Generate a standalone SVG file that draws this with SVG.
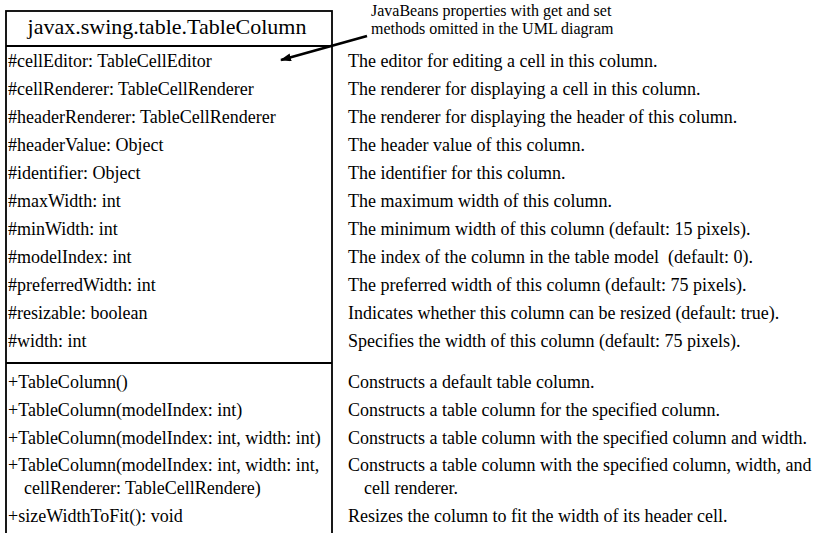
<svg xmlns="http://www.w3.org/2000/svg" width="816" height="533" viewBox="0 0 816 533">
<defs>
<style>
text{font-family:"Liberation Serif","Times New Roman",serif;fill:#000}
.t{font-size:22px}
.m{font-size:18px}
.n{font-size:16px}
.box{fill:#fff;stroke:#000;stroke-width:1.8}
.ln{stroke:#000;stroke-width:1.8}
</style>
<marker id="ah" markerWidth="11" markerHeight="8" refX="10" refY="4" orient="auto" markerUnits="userSpaceOnUse">
<path d="M0,0 L11,4 L0,8 z" fill="#000"/>
</marker>
</defs>
<rect width="816" height="533" fill="#fff"/>
<g id="class-TableColumn">
<rect class="box" x="6" y="11" width="326" height="530"/>
<line class="ln" x1="6" y1="46" x2="332" y2="46"/>
<line class="ln" x1="6" y1="363" x2="332" y2="363"/>
<text class="t" x="167" y="34" text-anchor="middle">javax.swing.table.TableColumn</text>
<g class="m">
<text x="8" y="67">#cellEditor: TableCellEditor</text>
<text x="8" y="95">#cellRenderer: TableCellRenderer</text>
<text x="8" y="123">#headerRenderer: TableCellRenderer</text>
<text x="8" y="151">#headerValue: Object</text>
<text x="8" y="179">#identifier: Object</text>
<text x="8" y="207">#maxWidth: int</text>
<text x="8" y="235">#minWidth: int</text>
<text x="8" y="263">#modelIndex: int</text>
<text x="8" y="291">#preferredWidth: int</text>
<text x="8" y="319">#resizable: boolean</text>
<text x="8" y="347">#width: int</text>
<text x="8" y="388">+TableColumn()</text>
<text x="8" y="416">+TableColumn(modelIndex: int)</text>
<text x="8" y="444">+TableColumn(modelIndex: int, width: int)</text>
<text x="8" y="471">+TableColumn(modelIndex: int, width: int,</text>
<text x="24" y="494">cellRenderer: TableCellRendere)</text>
<text x="8" y="522">+sizeWidthToFit(): void</text>
</g>
</g>
<g id="descriptions" class="m">
<text x="348" y="67">The editor for editing a cell in this column.</text>
<text x="348" y="95">The renderer for displaying a cell in this column.</text>
<text x="348" y="123">The renderer for displaying the header of this column.</text>
<text x="348" y="151">The header value of this column.</text>
<text x="348" y="179">The identifier for this column.</text>
<text x="348" y="207">The maximum width of this column.</text>
<text x="348" y="235">The minimum width of this column (default: 15 pixels).</text>
<text x="348" y="263" xml:space="preserve">The index of the column in the table model  (default: 0).</text>
<text x="348" y="291">The preferred width of this column (default: 75 pixels).</text>
<text x="348" y="319">Indicates whether this column can be resized (default: true).</text>
<text x="348" y="347">Specifies the width of this column (default: 75 pixels).</text>
<text x="348" y="388">Constructs a default table column.</text>
<text x="348" y="416">Constructs a table column for the specified column.</text>
<text x="348" y="444">Constructs a table column with the specified column and width.</text>
<text x="348" y="471">Constructs a table column with the specified column, width, and</text>
<text x="364" y="494">cell renderer.</text>
<text x="348" y="522">Resizes the column to fit the width of its header cell.</text>
</g>
<g id="note">
<text class="n" x="371" y="16">JavaBeans properties with get and set</text>
<text class="n" x="371" y="34">methods omitted in the UML diagram</text>
</g>
<g id="connectors">
<line x1="367" y1="36" x2="281" y2="60" stroke="#000" stroke-width="2.8" marker-end="url(#ah)"/>
</g>
</svg>
